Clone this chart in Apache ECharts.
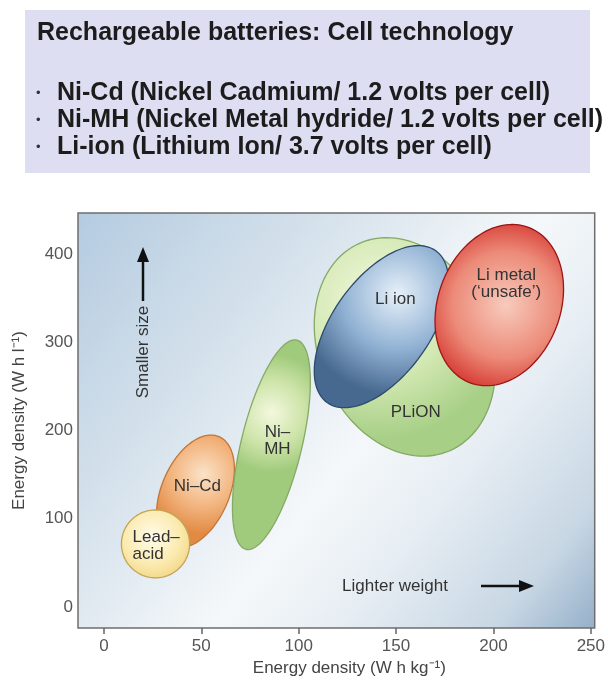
<!DOCTYPE html>
<html><head><meta charset="utf-8">
<script src="https://cdn.jsdelivr.net/npm/echarts@6/dist/echarts.min.js"></script>
<style>html,body{margin:0;padding:0;background:#fff}#c{width:608px;height:685px}</style>
</head><body><div id="c"></div>
<script>
// ---- data (drawing order: back to front) ----
const technologies = ['Ni–Cd', 'Lead–acid', 'Ni–MH', 'PLiON', 'Li ion', 'Li metal'];
const gravimetricLow  = [27,  9,  66, 108, 108, 170];   // W h kg-1
const gravimetricHigh = [67, 44, 106, 201, 177, 236];
const volumetricLow   = [67, 33,  65, 171, 226, 251];   // W h l-1
const volumetricHigh  = [195, 110, 303, 419, 410, 434];
const tilt            = [0.4, 0, 0.6, -0.2, 0.55, 0.2]; // correlation of the two ranges
const xTicks = [0, 50, 100, 150, 200, 250];
const yTicks = [0, 100, 200, 300, 400];

// ---- styles ----
const FONT = '"Liberation Sans", Arial, sans-serif';
const looks = {
  'Ni–Cd':     {text: 'Ni–Cd', dx: 2, dy: -5, align: 'center', hx: 0.6, hy: 0.35,
                stops: ['#fbe3c8', '#f2b47e', '#e28a44'], stroke: '#c27636'},
  'Lead–acid': {text: 'Lead–\nacid', dx: -23, dy: 2, align: 'left', hx: 0.45, hy: 0.4,
                stops: ['#fffcea', '#fbeaae', '#eccb72'], stroke: '#c3a456'},
  'Ni–MH':     {text: 'Ni–\nMH', dx: 6, dy: -4, align: 'center', hx: 0.5, hy: 0.35,
                stops: ['#f3f8de', '#cde4a9', '#a0ca7c'], stroke: '#86aa66'},
  'PLiON':     {text: 'PLiON', dx: 11, dy: 65, align: 'center', hx: 0.35, hy: 0.3,
                stops: ['#f5f8df', '#d2e8b2', '#a7cf86'], stroke: '#84a866'},
  'Li ion':    {text: 'Li ion', dx: 14, dy: -27, align: 'center', hx: 0.62, hy: 0.3,
                stops: ['#e6f0f9', '#90b1d3', '#48698f'], stroke: '#2c4a6a'},
  'Li metal':  {text: 'Li metal\n(\u2018unsafe\u2019)', dx: 7, dy: -21, align: 'center', hx: 0.55, hy: 0.5,
                stops: ['#f8cbbd', '#ec8a78', '#cf2420'], stroke: '#9c1515'}
};

const data = technologies.map((n, i) => ({
  name: n,
  value: [gravimetricLow[i], gravimetricHigh[i], volumetricLow[i], volumetricHigh[i], tilt[i]]
}));

function renderItem(params, api) {
  const name = technologies[params.dataIndex];
  const lk = looks[name];
  const x0 = api.value(0), x1 = api.value(1), y0 = api.value(2), y1 = api.value(3), rho = api.value(4);
  const cx = (x0 + x1) / 2, cy = (y0 + y1) / 2, sx = (x1 - x0) / 2, sy = (y1 - y0) / 2;
  const d = Math.acos(rho);
  const pts = [];
  const N = 120;
  for (let k = 0; k < N; k++) {
    const t = k / N * Math.PI * 2;
    pts.push(api.coord([cx + sx * Math.cos(t), cy + sy * Math.cos(t + d)]));
  }
  const c = api.coord([cx, cy]);
  return {
    type: 'group',
    children: [
      {type: 'polygon', shape: {points: pts},
       style: {
         fill: {type: 'radial', x: lk.hx, y: lk.hy, r: 0.75,
                colorStops: [{offset: 0, color: lk.stops[0]}, {offset: 0.55, color: lk.stops[1]}, {offset: 1, color: lk.stops[2]}]},
         stroke: lk.stroke, lineWidth: 1.3
       }},
      {type: 'text', x: c[0] + lk.dx, y: c[1] + lk.dy,
       style: {text: lk.text, fill: '#333', font: '17px ' + FONT, align: lk.align,
               verticalAlign: 'middle', lineHeight: 17}}
    ]
  };
}

const chart = echarts.init(document.getElementById('c'));
chart.setOption({
  animation: false,
  backgroundColor: '#ffffff',
  grid: {
    left: 78, top: 213, right: 10, bottom: 57, show: true,
    borderColor: '#6e6e6e', borderWidth: 1.5,
    backgroundColor: {type: 'linear', x: 0, y: 0, x2: 1, y2: 1, colorStops: [
      {offset: 0, color: '#b4cbe0'}, {offset: 0.3, color: '#d6e2ec'}, {offset: 0.55, color: '#f5f8fa'},
      {offset: 0.7, color: '#e6edf3'}, {offset: 0.88, color: '#c8d7e4'}, {offset: 1, color: '#94b0c9'}]}
  },
  xAxis: {
    type: 'value', min: -13.3, max: 252,
    name: 'Energy density (W h kg\u207B\u00B9)', nameLocation: 'middle', nameGap: 32,
    nameTextStyle: {fontSize: 17, color: '#444', fontFamily: FONT, padding: [0, 0, 0, 26]},
    axisLine: {show: false, onZero: false},
    axisTick: {show: true, length: 6, customValues: xTicks, lineStyle: {color: '#666', width: 1.5}},
    axisLabel: {customValues: xTicks, fontSize: 17, color: '#555', fontFamily: FONT, margin: 10},
    splitLine: {show: false}
  },
  yAxis: {
    type: 'value', min: -24, max: 447,
    name: 'Energy density (W h l\u207B\u00B9)', nameLocation: 'middle', nameGap: 50, nameRotate: 90,
    nameTextStyle: {fontSize: 17, color: '#444', fontFamily: FONT},
    axisLine: {show: false, onZero: false},
    axisTick: {show: false},
    axisLabel: {customValues: yTicks, fontSize: 17, color: '#555', fontFamily: FONT, margin: 5},
    splitLine: {show: false}
  },
  graphic: [
    {type: 'rect', shape: {x: 25, y: 10, width: 565, height: 163}, style: {fill: '#dedef2'}, z: 0},
    {type: 'text', x: 37, y: 33, style: {text: 'Rechargeable batteries: Cell technology', font: 'bold 25px ' + FONT, fill: '#1c1c1c', verticalAlign: 'middle'}},
    {type: 'text', x: 36, y: 93, style: {text: '•', font: '13px ' + FONT, fill: '#333', verticalAlign: 'middle'}},
    {type: 'text', x: 57, y: 93, style: {text: 'Ni-Cd (Nickel Cadmium/ 1.2 volts per cell)', font: 'bold 25px ' + FONT, fill: '#1c1c1c', verticalAlign: 'middle'}},
    {type: 'text', x: 36, y: 120, style: {text: '•', font: '13px ' + FONT, fill: '#333', verticalAlign: 'middle'}},
    {type: 'text', x: 57, y: 120, style: {text: 'Ni-MH (Nickel Metal hydride/ 1.2 volts per cell)', font: 'bold 25px ' + FONT, fill: '#1c1c1c', verticalAlign: 'middle'}},
    {type: 'text', x: 36, y: 147, style: {text: '•', font: '13px ' + FONT, fill: '#333', verticalAlign: 'middle'}},
    {type: 'text', x: 57, y: 147, style: {text: 'Li-ion (Lithium Ion/ 3.7 volts per cell)', font: 'bold 25px ' + FONT, fill: '#1c1c1c', verticalAlign: 'middle'}},
    // annotations
    {type: 'text', x: 143, y: 352, rotation: Math.PI / 2,
     style: {text: 'Smaller size', font: '17px ' + FONT, fill: '#333', align: 'center', verticalAlign: 'middle'}, z: 5},
    {type: 'line', shape: {x1: 143, y1: 301, x2: 143, y2: 258}, style: {stroke: '#111', lineWidth: 2.5}, z: 5},
    {type: 'polygon', shape: {points: [[143, 247], [137, 262], [149, 262]]}, style: {fill: '#111'}, z: 5},
    {type: 'text', x: 395, y: 586,
     style: {text: 'Lighter weight', font: '17px ' + FONT, fill: '#333', align: 'center', verticalAlign: 'middle'}, z: 5},
    {type: 'line', shape: {x1: 481, y1: 586, x2: 522, y2: 586}, style: {stroke: '#111', lineWidth: 2.5}, z: 5},
    {type: 'polygon', shape: {points: [[534, 586], [519, 580], [519, 592]]}, style: {fill: '#111'}, z: 5}
  ],
  series: [{
    type: 'custom', renderItem: renderItem, clip: false, z: 2,
    encode: {x: [0, 1], y: [2, 3]},
    data: data
  }]
});
</script></body></html>
